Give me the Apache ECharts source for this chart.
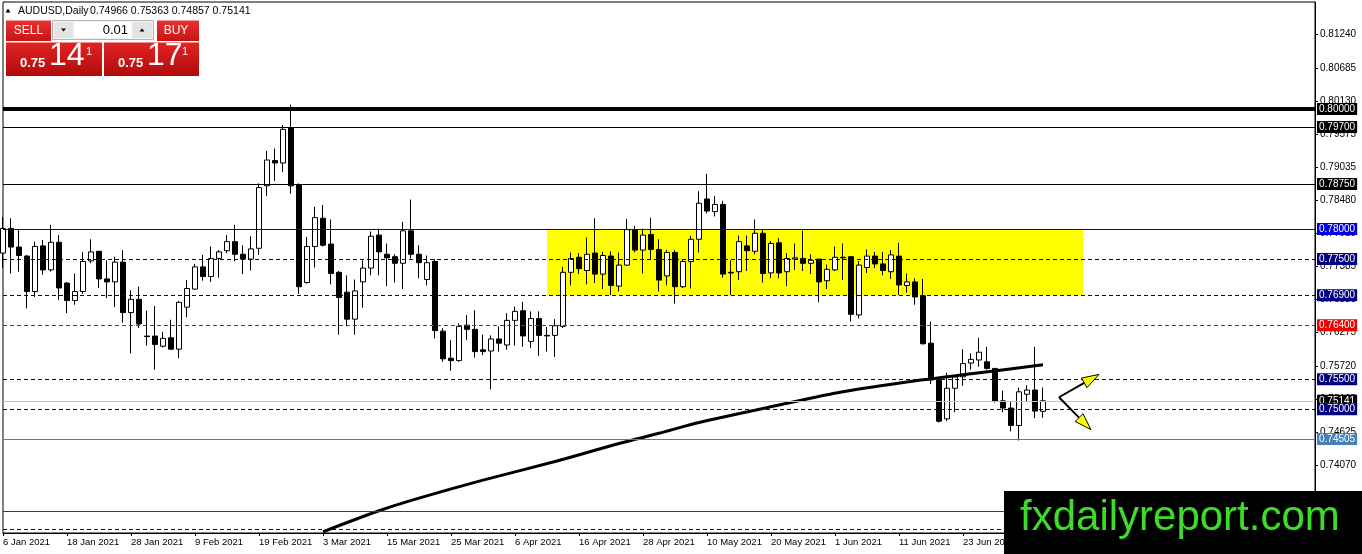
<!DOCTYPE html>
<html>
<head>
<meta charset="utf-8">
<title>AUDUSD Daily</title>
<script src="https://cdn.jsdelivr.net/npm/echarts@6.0.0/dist/echarts.min.js"></script>
<style>
  html, body { margin: 0; padding: 0; background: #fff; }
  #main { width: 1362px; height: 554px; }
</style>
</head>
<body>
<div id="main"></div>
<script>
// daily bars, [open, high, low, close], 6 Jan 2021 .. 7 Jul 2021
const ohlc = [
  [0.7760, 0.7820, 0.7735, 0.7801], [0.7801, 0.7818, 0.7726, 0.7770], [0.7770, 0.7800, 0.7729, 0.7756],
  [0.7755, 0.7757, 0.7668, 0.7696], [0.7696, 0.7779, 0.7687, 0.7771], [0.7772, 0.7782, 0.7724, 0.7732],
  [0.7732, 0.7807, 0.7729, 0.7778], [0.7778, 0.7790, 0.7682, 0.7702], [0.7710, 0.7712, 0.7660, 0.7681],
  [0.7681, 0.7726, 0.7674, 0.7696], [0.7696, 0.7762, 0.7692, 0.7746], [0.7747, 0.7783, 0.7743, 0.7762],
  [0.7763, 0.7763, 0.7702, 0.7717], [0.7717, 0.7748, 0.7685, 0.7712], [0.7712, 0.7754, 0.7670, 0.7745],
  [0.7745, 0.7765, 0.7644, 0.7661], [0.7661, 0.7698, 0.7593, 0.7683], [0.7683, 0.7704, 0.7635, 0.7642],
  [0.7622, 0.7664, 0.7606, 0.7621], [0.7622, 0.7672, 0.7566, 0.7608], [0.7605, 0.7629, 0.7603, 0.7618],
  [0.7619, 0.7649, 0.7599, 0.7600], [0.7600, 0.7680, 0.7585, 0.7678], [0.7670, 0.7715, 0.7653, 0.7701],
  [0.7700, 0.7742, 0.7699, 0.7737], [0.7737, 0.7757, 0.7714, 0.7721], [0.7721, 0.7771, 0.7712, 0.7751],
  [0.7751, 0.7765, 0.7719, 0.7762], [0.7764, 0.7790, 0.7760, 0.7779], [0.7779, 0.7807, 0.7746, 0.7758],
  [0.7758, 0.7773, 0.7725, 0.7750], [0.7750, 0.7788, 0.7731, 0.7767], [0.7768, 0.7876, 0.7757, 0.7869],
  [0.7872, 0.7930, 0.7855, 0.7915], [0.7914, 0.7934, 0.7880, 0.7910], [0.7910, 0.7973, 0.7895, 0.7966],
  [0.7969, 0.8007, 0.7859, 0.7872], [0.7874, 0.7876, 0.7692, 0.7704], [0.7711, 0.7787, 0.7709, 0.7771],
  [0.7771, 0.7837, 0.7736, 0.7819], [0.7818, 0.7840, 0.7771, 0.7773], [0.7775, 0.7816, 0.7708, 0.7726],
  [0.7728, 0.7730, 0.7624, 0.7686], [0.7695, 0.7723, 0.7638, 0.7650], [0.7650, 0.7716, 0.7624, 0.7697],
  [0.7712, 0.7748, 0.7669, 0.7735], [0.7735, 0.7796, 0.7723, 0.7788], [0.7790, 0.7801, 0.7723, 0.7762],
  [0.7758, 0.7776, 0.7705, 0.7752], [0.7754, 0.7758, 0.7711, 0.7743], [0.7743, 0.7812, 0.7700, 0.7797],
  [0.7797, 0.7849, 0.7751, 0.7758], [0.7758, 0.7773, 0.7718, 0.7744], [0.7716, 0.7756, 0.7706, 0.7744],
  [0.7746, 0.7750, 0.7618, 0.7631], [0.7630, 0.7635, 0.7579, 0.7584], [0.7585, 0.7615, 0.7564, 0.7581],
  [0.7581, 0.7643, 0.7579, 0.7638], [0.7640, 0.7657, 0.7615, 0.7633], [0.7633, 0.7665, 0.7586, 0.7596],
  [0.7599, 0.7624, 0.7590, 0.7596], [0.7597, 0.7623, 0.7533, 0.7617], [0.7617, 0.7638, 0.7596, 0.7610],
  [0.7607, 0.7660, 0.7599, 0.7648], [0.7648, 0.7671, 0.7606, 0.7663], [0.7664, 0.7679, 0.7604, 0.7622],
  [0.7613, 0.7663, 0.7602, 0.7651], [0.7651, 0.7663, 0.7589, 0.7623], [0.7623, 0.7637, 0.7596, 0.7622],
  [0.7623, 0.7650, 0.7587, 0.7639], [0.7638, 0.7737, 0.7635, 0.7728], [0.7728, 0.7761, 0.7706, 0.7751],
  [0.7753, 0.7760, 0.7725, 0.7734], [0.7731, 0.7786, 0.7708, 0.7758], [0.7760, 0.7818, 0.7710, 0.7725],
  [0.7725, 0.7762, 0.7700, 0.7756], [0.7755, 0.7763, 0.7690, 0.7706], [0.7705, 0.7761, 0.7696, 0.7740],
  [0.7740, 0.7817, 0.7739, 0.7799], [0.7799, 0.7805, 0.7761, 0.7765], [0.7765, 0.7801, 0.7726, 0.7790],
  [0.7791, 0.7819, 0.7750, 0.7766], [0.7766, 0.7783, 0.7696, 0.7715], [0.7722, 0.7765, 0.7706, 0.7761],
  [0.7761, 0.7765, 0.7676, 0.7704], [0.7704, 0.7750, 0.7702, 0.7746], [0.7746, 0.7789, 0.7701, 0.7783],
  [0.7783, 0.7863, 0.7761, 0.7843], [0.7850, 0.7892, 0.7826, 0.7830], [0.7829, 0.7855, 0.7821, 0.7841],
  [0.7841, 0.7847, 0.7719, 0.7725], [0.7728, 0.7748, 0.7690, 0.7727], [0.7729, 0.7789, 0.7715, 0.7779],
  [0.7772, 0.7789, 0.7730, 0.7764], [0.7763, 0.7816, 0.7758, 0.7793], [0.7793, 0.7800, 0.7711, 0.7726],
  [0.7727, 0.7780, 0.7718, 0.7776], [0.7777, 0.7785, 0.7718, 0.7727], [0.7729, 0.7760, 0.7705, 0.7751],
  [0.7750, 0.7776, 0.7732, 0.7752], [0.7751, 0.7797, 0.7730, 0.7743], [0.7743, 0.7758, 0.7725, 0.7748],
  [0.7750, 0.7750, 0.7678, 0.7712], [0.7714, 0.7741, 0.7700, 0.7733], [0.7732, 0.7771, 0.7730, 0.7753],
  [0.7753, 0.7776, 0.7715, 0.7752], [0.7754, 0.7754, 0.7646, 0.7658], [0.7657, 0.7747, 0.7651, 0.7740],
  [0.7736, 0.7766, 0.7727, 0.7755], [0.7755, 0.7762, 0.7735, 0.7742], [0.7742, 0.7762, 0.7723, 0.7731],
  [0.7729, 0.7765, 0.7717, 0.7757], [0.7755, 0.7777, 0.7690, 0.7707], [0.7706, 0.7726, 0.7694, 0.7712],
  [0.7712, 0.7718, 0.7674, 0.7687], [0.7689, 0.7717, 0.7608, 0.7609], [0.7610, 0.7646, 0.7542, 0.7549],
  [0.7550, 0.7554, 0.7478, 0.7480], [0.7484, 0.7561, 0.7480, 0.7535], [0.7535, 0.7557, 0.7495, 0.7554],
  [0.7554, 0.7600, 0.7539, 0.7576], [0.7577, 0.7593, 0.7566, 0.7583], [0.7582, 0.7619, 0.7571, 0.7595],
  [0.7579, 0.7604, 0.7566, 0.7568], [0.7568, 0.7568, 0.7511, 0.7513], [0.7514, 0.7531, 0.7495, 0.7502],
  [0.7502, 0.7513, 0.7463, 0.7473], [0.7473, 0.7536, 0.7448, 0.7529], [0.7525, 0.7540, 0.7513, 0.7532],
  [0.7532, 0.7604, 0.7485, 0.7497], [0.74966, 0.75363, 0.74857, 0.75141]
];

// moving average at some bars: [bar index, value]
const maPoints = [
  [40, 0.7296], [47, 0.7331], [52, 0.7352], [60, 0.7382], [69, 0.7413], [77, 0.7443], [82, 0.7460],
  [87, 0.7478], [97, 0.7507], [105, 0.7529], [115, 0.7549], [121, 0.7559], [130, 0.7574]
];

// horizontal levels drawn on the chart
const levels = [0.8000, 0.7970, 0.7875, 0.7800, 0.7750, 0.7690, 0.7640, 0.7550, 0.75141, 0.7500, 0.74505, 0.7331, 0.7300];

// yellow zone: first bar, last bar, top, bottom
const zone = [68, 135, 0.7800, 0.7690];

// two arrows: [from bar, from price, to bar, to price]
const arrows = [[132, 0.7520, 137, 0.7558], [132, 0.7520, 136, 0.7466]];

const priceTicks = [0.81240, 0.80685, 0.80130, 0.79575, 0.79035, 0.78480, 0.77925, 0.77385,
  0.76830, 0.76275, 0.75720, 0.75165, 0.74625, 0.74070, 0.73515];

const header = ['AUDUSD,Daily', '0.74966 0.75363 0.74857 0.75141'];

// trading days (Mon-Fri) from 6 Jan 2021, also the empty space right of the last bar
const months = ['Jan', 'Feb', 'Mar', 'Apr', 'May', 'Jun', 'Jul', 'Aug', 'Sep', 'Oct', 'Nov', 'Dec'];
const dates = [];
let t = Date.UTC(2021, 0, 6);
while (dates.length < 165) {
  const d = new Date(t);
  const wd = d.getUTCDay();
  if (wd !== 0 && wd !== 6) {
    dates.push(d.getUTCDate() + ' ' + months[d.getUTCMonth()] + ' ' + d.getUTCFullYear());
  }
  t += 86400000;
}

const FONT = 'Liberation Sans, Arial, sans-serif';

// candlestick wants [open, close, low, high]
const candleData = ohlc.map(function (r) { return [r[0], r[3], r[2], r[1]]; });

function levelLook(v) {
  if (v === 0.8) return { color: '#000', width: 4, type: 'solid', bg: '#000' };
  if (v === 0.797 || v === 0.7875) return { color: '#000', width: 1, type: 'solid', bg: '#000' };
  if (v === 0.78) return { color: '#0000cd', width: 1, type: 'solid', bg: '#0000e0' };
  if (v === 0.764) return { color: '#ee0000', width: 1, type: [4, 3], bg: '#ee0000' };
  if (v === 0.7331) return { color: '#cc0000', width: 1, type: 'solid', bg: '#cc0000' };
  if (v === 0.75141) return { color: '#c0c0c0', width: 1, type: 'solid', bg: '#000' };
  if (v === 0.74505) return { color: '#4682b4', width: 1, type: 'solid', bg: '#4682b4' };
  return { color: '#000080', width: 1, type: [4, 3], bg: '#000080' };
}

const levelLines = levels.map(function (v) {
  const s = levelLook(v);
  return {
    yAxis: v,
    lineStyle: { color: s.color, width: s.width, type: s.type },
    label: {
      show: true, position: 'end', distance: 2,
      formatter: v.toFixed(5),
      color: '#fff', backgroundColor: s.bg,
      fontFamily: FONT, fontSize: 10, lineHeight: 10, padding: [1, 2, 1, 2]
    }
  };
});

function renderArrow(params, api) {
  const p0 = api.coord([api.value(0), api.value(1)]);
  const p1 = api.coord([api.value(2), api.value(3)]);
  const ang = Math.atan2(p1[1] - p0[1], p1[0] - p0[0]);
  const len = 17, half = 5.5;
  const bx = p1[0] - len * Math.cos(ang);
  const by = p1[1] - len * Math.sin(ang);
  const nx = -Math.sin(ang), ny = Math.cos(ang);
  return {
    type: 'group',
    children: [
      { type: 'line', shape: { x1: p0[0], y1: p0[1], x2: bx, y2: by }, style: { stroke: '#000', lineWidth: 2 } },
      { type: 'polygon', shape: { points: [[p1[0], p1[1]], [bx + nx * half, by + ny * half], [bx - nx * half, by - ny * half]] },
        style: { fill: '#ffff00', stroke: '#000', lineWidth: 1 } }
    ]
  };
}

function redGrad(top, bottom) {
  return new echarts.graphic.LinearGradient(0, 0, 0, 1, [
    { offset: 0, color: top }, { offset: 1, color: bottom }
  ]);
}

const panel = [
  { type: 'polygon', shape: { points: [[5.5, 12.5], [8, 8.5], [10.5, 12.5]] }, style: { fill: '#000' } },
  { type: 'text', x: 18, y: 11, style: { text: header[0], font: '10.5px ' + FONT, fill: '#000', verticalAlign: 'middle' } },
  { type: 'text', x: 90, y: 11, style: { text: header[1], font: '10.5px ' + FONT, fill: '#000', verticalAlign: 'middle' } },
  // sell side
  { type: 'rect', shape: { x: 6, y: 20.5, width: 45, height: 20.5 }, style: { fill: redGrad('#e93232', '#c81414') } },
  { type: 'text', x: 28.5, y: 31, style: { text: 'SELL', font: '12px ' + FONT, fill: '#fff', align: 'center', verticalAlign: 'middle' } },
  { type: 'rect', shape: { x: 6, y: 42.5, width: 96, height: 33.5 }, style: { fill: redGrad('#e12424', '#b20a0a') } },
  { type: 'text', x: 20, y: 70, style: { text: '0.75', font: 'bold 13px ' + FONT, fill: '#fff', verticalAlign: 'bottom' } },
  { type: 'text', x: 49, y: 72, style: { text: '14', font: '32px ' + FONT, fill: '#fff', verticalAlign: 'bottom' } },
  { type: 'text', x: 86, y: 46, style: { text: '1', font: '11px ' + FONT, fill: '#fff', verticalAlign: 'top' } },
  // lot size box
  { type: 'rect', shape: { x: 52.5, y: 20.5, width: 101, height: 19 }, style: { fill: '#f2f2f2', stroke: '#b4b4b4', lineWidth: 1 } },
  { type: 'rect', shape: { x: 54, y: 22, width: 19, height: 16 }, style: { fill: '#e4e4e4' } },
  { type: 'rect', shape: { x: 74, y: 22, width: 57.5, height: 16 }, style: { fill: '#fff' } },
  { type: 'rect', shape: { x: 132.5, y: 22, width: 19.5, height: 16 }, style: { fill: '#e4e4e4' } },
  { type: 'polygon', shape: { points: [[61, 28.5], [66, 28.5], [63.5, 31.5]] }, style: { fill: '#000' } },
  { type: 'polygon', shape: { points: [[139.5, 31.5], [144.5, 31.5], [142, 28.5]] }, style: { fill: '#000' } },
  { type: 'text', x: 128, y: 30, style: { text: '0.01', font: '13px ' + FONT, fill: '#000', align: 'right', verticalAlign: 'middle' } },
  // buy side
  { type: 'rect', shape: { x: 157, y: 20.5, width: 42, height: 20.5 }, style: { fill: redGrad('#e93232', '#c81414') } },
  { type: 'text', x: 176, y: 31, style: { text: 'BUY', font: '12px ' + FONT, fill: '#fff', align: 'center', verticalAlign: 'middle' } },
  { type: 'rect', shape: { x: 104, y: 42.5, width: 95, height: 33.5 }, style: { fill: redGrad('#e12424', '#b20a0a') } },
  { type: 'text', x: 118, y: 70, style: { text: '0.75', font: 'bold 13px ' + FONT, fill: '#fff', verticalAlign: 'bottom' } },
  { type: 'text', x: 147, y: 72, style: { text: '17', font: '32px ' + FONT, fill: '#fff', verticalAlign: 'bottom' } },
  { type: 'text', x: 182, y: 46, style: { text: '1', font: '11px ' + FONT, fill: '#fff', verticalAlign: 'top' } },
  // site mark
  { type: 'rect', shape: { x: 1004, y: 491, width: 358, height: 63 }, style: { fill: '#000' } },
  { type: 'text', x: 1020, y: 518, style: { text: 'fxdailyreport.com', font: '42px ' + FONT, fill: '#3cdc28', verticalAlign: 'middle' } }
].map(function (g) { g.z = 100; g.silent = true; return g; });

const chart = echarts.init(document.getElementById('main'), null, { renderer: 'canvas' });

chart.setOption({
  animation: false,
  backgroundColor: '#fff',
  textStyle: { fontFamily: FONT },
  grid: { left: 3, right: 47, top: 2, bottom: 21, show: true, borderColor: '#000', borderWidth: 1, backgroundColor: 'transparent' },
  xAxis: {
    type: 'category',
    data: dates,
    boundaryGap: false,
    axisLine: { lineStyle: { color: '#000', width: 1 } },
    axisTick: { show: true, interval: 7, length: 3, lineStyle: { color: '#000' } },
    axisLabel: { interval: 7, align: 'left', margin: 4, color: '#000', fontSize: 9.5, fontFamily: FONT, showMaxLabel: false },
    splitLine: { show: false }
  },
  yAxis: {
    type: 'value',
    position: 'right',
    min: 0.7294,
    max: 0.8178,
    axisLine: { show: true, lineStyle: { color: '#000' } },
    axisTick: { show: true, length: 3, customValues: priceTicks, lineStyle: { color: '#000' } },
    axisLabel: {
      customValues: priceTicks, margin: 5, color: '#000', fontSize: 10, fontFamily: FONT,
      formatter: function (v) { return v.toFixed(5); }
    },
    splitLine: { show: false }
  },
  series: [
    {
      type: 'candlestick',
      data: candleData,
      barWidth: 5,
      z: 3,
      itemStyle: { color: '#fff', color0: '#000', borderColor: '#000', borderColor0: '#000', borderWidth: 1 },
      markArea: {
        silent: true,
        itemStyle: { color: '#ffff00' },
        data: [[{ coord: [zone[0], zone[2]] }, { coord: [zone[1], zone[3]] }]]
      },
      markLine: {
        silent: true,
        symbol: ['none', 'none'],
        precision: 5,
        data: levelLines
      }
    },
    {
      type: 'line',
      data: maPoints,
      smooth: 0.3,
      showSymbol: false,
      symbol: 'none',
      z: 4,
      lineStyle: { color: '#000', width: 3 }
    },
    {
      type: 'custom',
      data: arrows,
      encode: { x: [0, 2], y: [1, 3] },
      renderItem: renderArrow,
      z: 6,
      silent: true
    }
  ],
  graphic: panel
});
</script>
</body>
</html>
